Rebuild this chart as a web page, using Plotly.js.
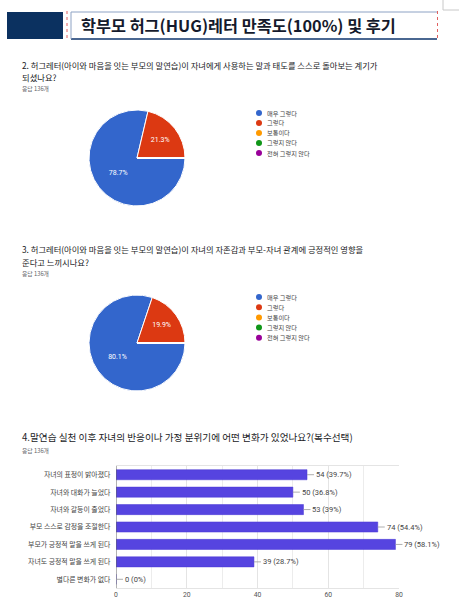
<!DOCTYPE html>
<html>
<head>
<meta charset="utf-8">
<script src="https://cdn.plot.ly/plotly-3.0.1.min.js"></script>
<style>html,body{margin:0;padding:0;background:#fff;}#chart{width:459px;height:604px;}</style>
</head>
<body>
<div id="chart"></div>
<script>
// ---- data ----
const pageTitle = '학부모 허그(HUG)레터 만족도(100%) 및 후기';
const responseLabel = '응답 136개';
const q2Lines = ['2. 허그레터(아이와 마음을 잇는 부모의 말연습)이 자녀에게 사용하는 말과 태도를 스스로 돌아보는 계기가', '되셨나요?'];
const q3Lines = ['3. 허그레터(아이와 마음을 잇는 부모의 말연습)이 자녀의 자존감과 부모-자녀 관계에 긍정적인 영향을', '준다고 느끼시나요?'];
const q4Title = '4.말연습 실천 이후 자녀의 반응이나 가정 분위기에 어떤 변화가 있었나요?(복수선택)';
const scaleLabels = ['매우 그렇다', '그렇다', '보통이다', '그렇지 않다', '전혀 그렇지 않다'];
const scaleColors = ['#3366cc', '#dc3912', '#ff9900', '#109618', '#990099'];
const q2Values = [107, 29, 0, 0, 0];
const q3Values = [109, 27, 0, 0, 0];
const q4Categories = ['자녀의 표정이 밝아졌다', '자녀와 대화가 늘었다', '자녀와 갈등이 줄었다', '부모 스스로 감정을 조절한다', '부모가 긍정적 말을 쓰게 된다', '자녀도 긍정적 말을 쓰게 된다', '별다른 변화가 없다'];
const q4Counts = [54, 50, 53, 74, 79, 39, 0];
const q4Percents = ['39.7%', '36.8%', '39%', '54.4%', '58.1%', '28.7%', '0%'];

// ---- helpers (pixel -> paper) ----
const W = 459, H = 604;
const px = x => x / W;
const py = y => 1 - y / H;
const FONT = '"Noto Sans CJK KR", "Noto Sans", sans-serif';

const annotations = [];
const shapes = [];

function txt(x, y, text, size, color, opts) {
  annotations.push(Object.assign({
    xref: 'paper', yref: 'paper', x: px(x), y: py(y), text: text,
    showarrow: false, xanchor: 'left', yanchor: 'middle',
    font: {family: FONT, size: size, color: color}
  }, opts || {}));
}

// header
shapes.push({type: 'rect', xref: 'paper', yref: 'paper', x0: px(7), x1: px(63), y0: py(39), y1: py(12), fillcolor: '#0b3160', line: {width: 0}});
shapes.push({type: 'line', xref: 'paper', yref: 'paper', x0: px(71), x1: px(437), y0: py(12), y1: py(12), line: {color: '#8da2c4', width: 1}});
shapes.push({type: 'line', xref: 'paper', yref: 'paper', x0: px(71), x1: px(437), y0: py(39), y1: py(39), line: {color: '#4a6791', width: 2}});
shapes.push({type: 'line', xref: 'paper', yref: 'paper', x0: px(71), x1: px(71), y0: py(12), y1: py(39), line: {color: '#8da2c4', width: 1}});
shapes.push({type: 'line', xref: 'paper', yref: 'paper', x0: px(67), x1: px(67), y0: py(11), y1: py(40), line: {color: '#e06060', width: 1, dash: 'dot'}});
shapes.push({type: 'line', xref: 'paper', yref: 'paper', x0: px(437.5), x1: px(437.5), y0: py(11), y1: py(40), line: {color: '#e06060', width: 1, dash: 'dot'}});
shapes.push({type: 'line', xref: 'paper', yref: 'paper', x0: px(443), x1: px(443), y0: py(0), y1: py(10), line: {color: '#c8c8c8', width: 1}});
shapes.push({type: 'line', xref: 'paper', yref: 'paper', x0: px(443), x1: px(459), y0: py(10), y1: py(10), line: {color: '#c8c8c8', width: 1}});
txt(79, 25, '<b>' + pageTitle + '</b>', 16.3, '#151a2c');

// question texts
txt(20, 65, q2Lines[0], 8.3, '#202124');
txt(20, 77, q2Lines[1], 8.3, '#202124');
txt(20, 88.5, responseLabel, 5.8, '#5f6368');
txt(20, 249, q3Lines[0], 8.3, '#202124');
txt(20, 262, q3Lines[1], 8.3, '#202124');
txt(20, 273, responseLabel, 5.8, '#5f6368');
txt(20, 437, q4Title, 9.65, '#202124');
txt(20, 450, responseLabel, 5.8, '#5f6368');

// legends for the two pies
function legend(x, y0, step) {
  scaleLabels.forEach((lab, i) => {
    const y = y0 + i * step;
    shapes.push({type: 'circle', xref: 'paper', yref: 'paper', x0: px(x - 3), x1: px(x + 3), y0: py(y + 3), y1: py(y - 3), fillcolor: scaleColors[i], line: {width: 0}});
    txt(x + 6, y, lab, 6.2, '#444');
  });
}
legend(259, 113, 10);
legend(259, 297, 10.2);

// bar value labels
const barAnn = q4Counts.map((v, i) => ({
  xref: 'x', yref: 'y', x: v, y: q4Categories[i],
  text: v + ' (' + q4Percents[i] + ')', showarrow: true, arrowhead: 0, arrowwidth: 0.8,
  arrowcolor: '#999', ax: 7, ay: 0, xanchor: 'left', standoff: 0,
  font: {family: 'Roboto, "Noto Sans", sans-serif', size: 7.5, color: '#444'}
}));
barAnn.forEach(a => annotations.push(a));

const pieCommon = {
  type: 'pie', labels: scaleLabels, sort: false, direction: 'clockwise', rotation: 90,
  marker: {colors: scaleColors, line: {color: '#fff', width: 1}},
  textinfo: 'percent', textposition: 'inside', insidetextorientation: 'horizontal',
  textfont: {family: 'Roboto, sans-serif', size: 7, color: '#fff'},
  showlegend: false, hoverinfo: 'none'
};

const traces = [
  Object.assign({}, pieCommon, {values: q2Values, domain: {x: [px(89), px(185)], y: [py(206), py(110)]}}),
  Object.assign({}, pieCommon, {values: q3Values, domain: {x: [px(89), px(185)], y: [py(391), py(295)]}}),
  {
    type: 'bar', orientation: 'h', x: q4Counts, y: q4Categories,
    marker: {color: '#5644e0', line: {color: '#4a38d4', width: 0.5}},
    width: 0.58, hoverinfo: 'none', showlegend: false, xaxis: 'x', yaxis: 'y'
  }
];

const layout = {
  width: W, height: H,
  margin: {l: 0, r: 0, t: 0, b: 0},
  paper_bgcolor: '#fff', plot_bgcolor: '#fff',
  showlegend: false,
  xaxis: {
    domain: [px(116), px(399)], range: [0, 80], dtick: 20, tick0: 0,
    showgrid: true, gridcolor: '#e4e4e4', gridwidth: 1,
    minor: {dtick: 10, showgrid: true, gridcolor: '#ececec'},
    zeroline: false, showline: true, linecolor: '#e4e4e4', mirror: true,
    ticks: '', tickfont: {family: 'Roboto, sans-serif', size: 6.8, color: '#555'},
    fixedrange: true
  },
  yaxis: {
    domain: [py(588), py(466)], autorange: 'reversed', type: 'category',
    showgrid: false, zeroline: false, showline: false, ticks: '',
    ticksuffix: '   ',
    tickfont: {family: FONT, size: 6.9, color: '#444'}, automargin: false,
    fixedrange: true
  },
  shapes: shapes.concat([
    {type: 'line', xref: 'x', yref: 'paper', x0: 0, x1: 0, y0: py(588), y1: py(466), line: {color: '#666', width: 1}}
  ]),
  annotations: annotations
};

Plotly.newPlot('chart', traces, layout, {displayModeBar: false, staticPlot: true});
</script>
</body>
</html>
